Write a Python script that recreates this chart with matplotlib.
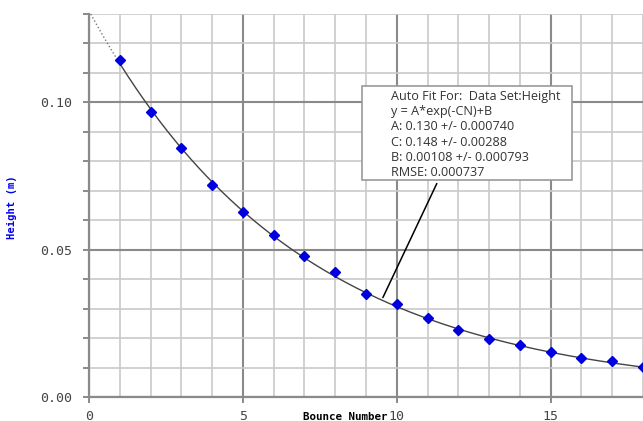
import numpy as np
import matplotlib.pyplot as plt
from matplotlib.patches import Rectangle

# Datos: altura de cada rebote
rebote = [1, 2, 3, 4, 5, 6, 7, 8, 9, 10, 11, 12, 13, 14, 15, 16, 17, 18]
altura = [0.1143, 0.0969, 0.0844, 0.0721, 0.0629, 0.0551, 0.0480, 0.0425, 0.0350,
          0.0316, 0.0269, 0.0228, 0.0197, 0.0177, 0.0153, 0.0133, 0.0122, 0.0102]

# Parametros del ajuste y = A*exp(-CN)+B
A = 0.130
C = 0.148
B = 0.00108
texto_ajuste = ("Auto Fit For:  Data Set:Height\n"
                "y = A*exp(-CN)+B\n"
                "A: 0.130 +/- 0.000740\n"
                "C: 0.148 +/- 0.00288\n"
                "B: 0.00108 +/- 0.000793\n"
                "RMSE: 0.000737")

fig = plt.figure(figsize=(6.43, 4.21), dpi=100)
ax = fig.add_axes([89 / 643, 1 - 397 / 421, 1 - 89 / 643, (397 - 14) / 421])

ax.set_xlim(0, 18)
ax.set_ylim(0, 0.13)

# rejilla
for x in range(0, 19):
    c = '#8a8a8a' if x % 5 == 0 else '#cacaca'
    ax.axvline(x, color=c, lw=1.5 if x % 5 == 0 else 1.2, zorder=0)
for i in range(0, 14):
    y = i * 0.01
    c = '#8a8a8a' if i % 5 == 0 else '#cacaca'
    ax.axhline(y, color=c, lw=1.5 if i % 5 == 0 else 1.2, zorder=0)

# curva de ajuste
n1 = np.linspace(0, 1, 30)
n2 = np.linspace(1, 18, 200)
ax.plot(n1, A * np.exp(-C * n1) + B, ':', color='#777777', lw=1, zorder=2)
ax.plot(n2, A * np.exp(-C * n2) + B, '-', color='#444444', lw=1, zorder=2)

ax.plot(rebote, altura, 'D', color='#0000dd', markersize=5.5, zorder=3, clip_on=False)

ax.set_xticks([0, 5, 10, 15])
ax.set_yticks([0.00, 0.05, 0.10])
ax.set_yticklabels(['0.00', '0.05', '0.10'])
ax.set_yticks(np.arange(0, 0.131, 0.01), minor=True)
ax.tick_params(axis='both', which='both', colors='#777777', labelcolor='#444444',
               length=4, width=1.2, labelsize=9.5)
ax.tick_params(axis='y', pad=8)
ax.tick_params(axis='x', pad=5)
for lab in ax.get_xticklabels() + ax.get_yticklabels():
    lab.set_family('DejaVu Sans Mono')

for s in ['top', 'right']:
    ax.spines[s].set_visible(False)
for s in ['left', 'bottom']:
    ax.spines[s].set_color('#8a8a8a')
    ax.spines[s].set_linewidth(1.6)

# etiquetas
fig.text(12 / 643, 1 - 207 / 421, 'Height (m)', rotation=90, color='#0000ee',
         fontsize=7.6, fontweight='bold', family='DejaVu Sans Mono', ha='center', va='center')
fig.text(345 / 643, 1 - 417 / 421, 'Bounce Number', color='black',
         fontsize=7.8, fontweight='bold', family='DejaVu Sans Mono', ha='center', va='center')

# cuadro del ajuste
ax.annotate('', xy=(9.51, A * np.exp(-C * 9.51) + B), xycoords='data',
            xytext=(438 / 643, 1 - 181 / 421), textcoords='figure fraction',
            arrowprops=dict(arrowstyle='-', color='black', lw=1.1), zorder=4)
fig.patches.append(Rectangle((362 / 643, 1 - 180 / 421), 210 / 643, 94 / 421,
                             transform=fig.transFigure, facecolor='white',
                             edgecolor='#999999', lw=1.2, zorder=5))
fig.text(391 / 643, 1 - 90 / 421, texto_ajuste, fontsize=9.1, color='#333333',
         family='Open Sans', va='top', ha='left', linespacing=1.22, zorder=6)

fig.savefig('out.png', dpi=100)
